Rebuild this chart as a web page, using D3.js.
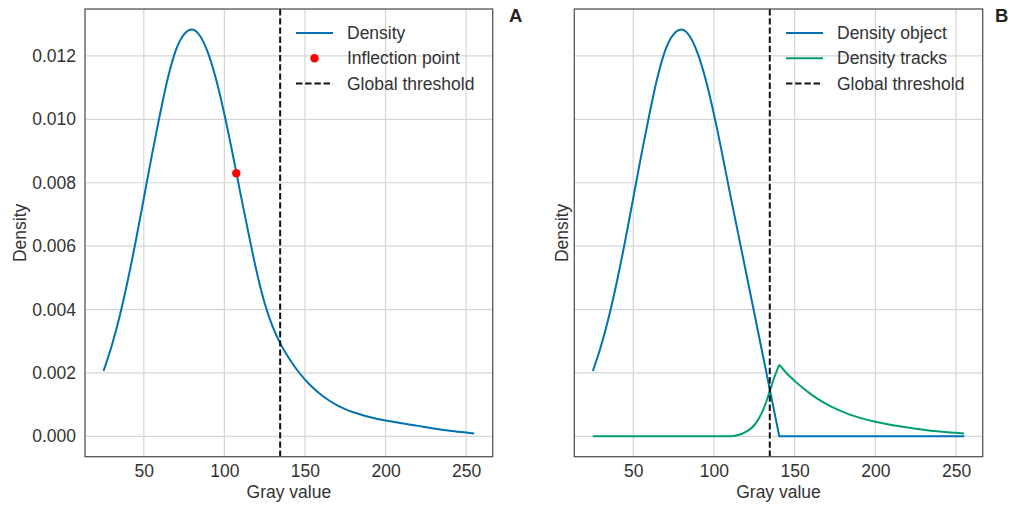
<!DOCTYPE html>
<html>
<head>
<meta charset="utf-8">
<script src="https://cdn.jsdelivr.net/npm/d3@7"></script>
<style>
  body { margin: 0; background: #fff; }
  svg { display: block; font-family: "Liberation Sans", Arial, sans-serif; }
</style>
</head>
<body>
<div id="chart"></div>
<script>
// gray values and density readings
const grayAll = [25, 30, 35, 40, 45, 50, 55, 60, 65, 70, 75, 80, 85, 90, 95, 100, 105, 110, 115, 120, 125, 130, 135, 140, 145, 150, 155, 160, 165, 170, 175, 180, 185, 190, 195, 200, 210, 220, 230, 240, 250, 255];
const densityAll = [0.00206, 0.00284, 0.00379, 0.00491, 0.00616, 0.00751, 0.00887, 0.01015, 0.01132, 0.0122, 0.01268, 0.01283, 0.01262, 0.01207, 0.01123, 0.01016, 0.00894, 0.00765, 0.0064, 0.0052, 0.0042, 0.00345, 0.0029, 0.00247, 0.0021, 0.00179, 0.00153, 0.00131, 0.00113, 0.00098, 0.00086, 0.00076, 0.00068, 0.00061, 0.00055, 0.0005, 0.00041, 0.00033, 0.00025, 0.00018, 0.00012, 0.00009];

// object density: smooth part, then a straight drop to zero
const grayObject = [25, 30, 35, 40, 45, 50, 55, 60, 65, 70, 75, 80, 85, 90, 95, 100, 105, 110, 115];
const densityObject = [0.00206, 0.00284, 0.00379, 0.00491, 0.00616, 0.00751, 0.00887, 0.01015, 0.01132, 0.0122, 0.01268, 0.01283, 0.01262, 0.01207, 0.01123, 0.01016, 0.00894, 0.00765, 0.0064];
const grayObjectTail = [115, 140.5, 255];
const densityObjectTail = [0.0064, 0, 0];

// tracks density: rise up to the peak, then decay
const grayTracksRise = [25, 100, 110, 112, 115, 120, 125, 128, 131, 134, 137, 140.5];
const densityTracksRise = [0, 0, 0, 0.00001, 0.00004, 0.00015, 0.00035, 0.00058, 0.0009, 0.00133, 0.0018, 0.00226];
const grayTracksDecay = [140.5, 145, 150, 155, 160, 165, 170, 175, 180, 185, 190, 200, 210, 220, 230, 240, 250, 255];
const densityTracksDecay = [0.00226, 0.00199, 0.00175, 0.00153, 0.00133, 0.00116, 0.00101, 0.00088, 0.00077, 0.00067, 0.00059, 0.00046, 0.00036, 0.00028, 0.00021, 0.00015, 0.00011, 0.00009];

const inflection = [107.4, 0.0083];
const threshold = 134.6;

const xTicks = [50, 100, 150, 200, 250];
const yTicks = [0, 0.002, 0.004, 0.006, 0.008, 0.010, 0.012];

const blue = "#0072B2", green = "#009E73", textCol = "#333333";
const W = 1013, H = 506;
const plotTop = 9, plotBottom = 456.7;
const fontSize = "17.5px";

const svg = d3.select("#chart").append("svg")
  .attr("width", W).attr("height", H);

const y = d3.scaleLinear().domain([-0.000642, 0.01348]).range([plotBottom, plotTop]);

function panel(left, right, opts) {
  const x = d3.scaleLinear().domain([13.5, 266.5]).range([left, right]);
  const g = svg.append("g");

  // grid
  g.append("g").selectAll("line").data(xTicks).join("line")
    .attr("x1", d => x(d)).attr("x2", d => x(d))
    .attr("y1", plotTop).attr("y2", plotBottom)
    .attr("stroke", "#d6d6d6").attr("stroke-width", 1.2);
  g.append("g").selectAll("line").data(yTicks).join("line")
    .attr("x1", left).attr("x2", right)
    .attr("y1", d => y(d)).attr("y2", d => y(d))
    .attr("stroke", "#d6d6d6").attr("stroke-width", 1.2);

  // x axis
  const xa = g.append("g").attr("transform", `translate(0,${plotBottom})`)
    .call(d3.axisBottom(x).tickValues(xTicks).tickSize(0).tickPadding(8));
  xa.select(".domain").remove();
  xa.selectAll("text").attr("fill", textCol).style("font-size", fontSize)
    .style("font-family", "Liberation Sans, Arial, sans-serif");

  if (opts.yTickLabels) {
    const ya = g.append("g").attr("transform", `translate(${left},0)`)
      .call(d3.axisLeft(y).tickValues(yTicks).tickFormat(d3.format(".3f")).tickSize(0).tickPadding(9));
    ya.select(".domain").remove();
    ya.selectAll("text").attr("fill", textCol).style("font-size", fontSize)
      .style("font-family", "Liberation Sans, Arial, sans-serif");
  }

  g.append("text")
    .attr("x", (left + right) / 2).attr("y", 497.5)
    .attr("text-anchor", "middle").attr("fill", textCol)
    .style("font-size", fontSize).text("Gray value");

  g.append("text")
    .attr("transform", `translate(${opts.yLabelX},${(plotTop + plotBottom) / 2}) rotate(-90)`)
    .attr("text-anchor", "middle").attr("fill", textCol)
    .style("font-size", fontSize).text("Density");

  const marks = g.append("g");

  opts.series.forEach(s => {
    const line = d3.line().x(d => x(d[0])).y(d => y(d[1]))
      .curve(s.linear ? d3.curveLinear : d3.curveMonotoneX);
    marks.append("path")
      .datum(d3.zip(s.x, s.y))
      .attr("d", line)
      .attr("fill", "none").attr("stroke", s.color)
      .attr("stroke-width", 2).attr("stroke-linejoin", "round");
  });

  if (opts.point) {
    marks.append("circle")
      .attr("cx", x(opts.point[0])).attr("cy", y(opts.point[1]))
      .attr("r", 4.2).attr("fill", "red");
  }

  marks.append("line")
    .attr("x1", x(threshold)).attr("x2", x(threshold))
    .attr("y1", plotTop).attr("y2", plotBottom)
    .attr("stroke", "#111").attr("stroke-width", 2)
    .attr("stroke-dasharray", "6.4,2.8");

  // frame
  g.append("rect")
    .attr("x", left).attr("y", plotTop)
    .attr("width", right - left).attr("height", plotBottom - plotTop)
    .attr("fill", "none").attr("stroke", "#555").attr("stroke-width", 1.3);

  // legend
  const lx = opts.legendX;
  opts.legend.forEach((item, i) => {
    const ly = 33 + i * 25.3;
    const lg = g.append("g");
    if (item.type === "line") {
      lg.append("line").attr("x1", lx).attr("x2", lx + 37)
        .attr("y1", ly).attr("y2", ly)
        .attr("stroke", item.color).attr("stroke-width", 2)
        .attr("stroke-dasharray", item.dash || null);
    } else {
      lg.append("circle").attr("cx", lx + 18.5).attr("cy", ly).attr("r", 4.2).attr("fill", item.color);
    }
    lg.append("text").attr("x", lx + 51).attr("y", ly).attr("dy", "0.35em")
      .attr("fill", textCol).style("font-size", fontSize).text(item.label);
  });

  svg.append("text")
    .attr("x", opts.tagX).attr("y", 22)
    .attr("fill", "#222").style("font-size", "18.5px").style("font-weight", "bold")
    .text(opts.tag);
}

panel(85, 492.7, {
  yTickLabels: true,
  yLabelX: 26,
  series: [{ x: grayAll, y: densityAll, color: blue }],
  point: inflection,
  legendX: 296,
  legend: [
    { type: "line", color: blue, label: "Density" },
    { type: "dot", color: "red", label: "Inflection point" },
    { type: "line", color: "#111", dash: "6.4,2.8", label: "Global threshold" }
  ],
  tag: "A", tagX: 509
});

panel(574.3, 982.7, {
  yTickLabels: false,
  yLabelX: 568,
  series: [
    { x: grayObject, y: densityObject, color: blue },
    { x: grayObjectTail, y: densityObjectTail, color: blue, linear: true },
    { x: grayTracksRise, y: densityTracksRise, color: green },
    { x: grayTracksDecay, y: densityTracksDecay, color: green }
  ],
  legendX: 786,
  legend: [
    { type: "line", color: blue, label: "Density object" },
    { type: "line", color: green, label: "Density tracks" },
    { type: "line", color: "#111", dash: "6.4,2.8", label: "Global threshold" }
  ],
  tag: "B", tagX: 995
});
</script>
</body>
</html>
